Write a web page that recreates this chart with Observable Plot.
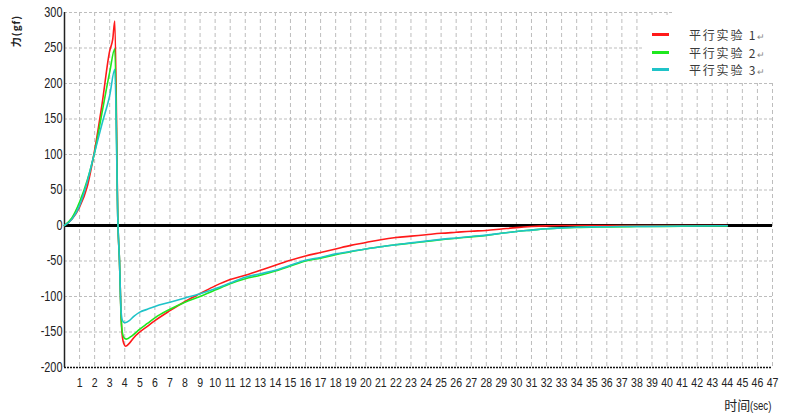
<!DOCTYPE html>
<html>
<head>
<meta charset="utf-8">
<script src="https://cdn.jsdelivr.net/npm/d3@7"></script>
<script src="https://cdn.jsdelivr.net/npm/@observablehq/plot@0.6"></script>
<style>
  body { margin: 0; background: #fff; }
  #wrap { position: relative; width: 796px; height: 418px; overflow: hidden; }
  .legend { position: absolute; left: 643px; top: 15px; width: 153px; height: 68px; background: #fff; }
  .legend .item { position: absolute; left: 0; height: 17px; width: 153px; }
  .legend .sw { position: absolute; left: 9px; top: 7px; width: 17px; height: 3px; }
  .legend .tx { position: absolute; left: 46px; top: 0px; font-family: "Noto Sans CJK SC", sans-serif; font-size: 12px; letter-spacing: 1.8px; color: #3a3a3a; white-space: nowrap; line-height: 17px; height: 17px; }
  .legend .tx .rt { font-size: 9px; color: #888; letter-spacing: 0; }
  .topcover { position: absolute; left: 672px; top: 0; width: 124px; height: 15px; background: #fff; }
  .ylab { position: absolute; left: -4px; top: 25px; width: 40px; text-align: center; transform: rotate(-90deg); transform-origin: 50% 50%; font-family: "Noto Sans CJK SC", sans-serif; font-size: 10px; letter-spacing: 1px; font-weight: bold; color: #222; white-space: nowrap; line-height: 12px; }
  .xlab { position: absolute; right: 24px; top: 396px; font-family: "Noto Sans CJK SC", sans-serif; font-size: 13px; color: #222; white-space: nowrap; line-height: 18px; }
  .xlab .s { display: inline-block; font-family: "Liberation Sans", sans-serif; font-size: 12px; transform: scaleX(0.8); transform-origin: 0 50%; margin-right: -5px; }
</style>
</head>
<body>
<div id="wrap"></div>
<script>
// ---- data ----
const seriesNames = ["平行实验 1", "平行实验 2", "平行实验 3"];
const seriesColors = ["#ff1a1a", "#1ee81e", "#1fc3c8"];

const t1 = [0,0.5,1,1.5,2,2.5,3,3.2,3.34,3.55,3.65,3.76,3.85,3.95,4.05,4.3,4.6,5,5.5,6,7,8,9,10,11,12,13,14,15,16,17,18,19,20,21,22,23,24,25,26,27,28,29,30,31,32,33,36,40,44];
const f1 = [0,9,26,54,106,172,246,262,288,0,-50,-130,-158,-167,-170,-166,-158,-150,-142,-134,-120,-107,-96,-85,-76,-70,-63,-56,-49,-43,-38,-33,-28,-24,-20,-17,-15,-13,-11,-9.5,-8,-7,-5,-3,-1.5,-0.5,0,0,0,0];

const t2 = [0,0.5,1,1.5,2,2.5,3,3.34,3.55,3.65,3.76,3.85,3.95,4.1,4.5,5,5.5,6,7,8,9,10,11,12,13,14,15,16,17,18,19,20,21,22,23,24,25,26,27,28,29,30,31,32,33,34,35,36,38,40,42,44];
const f2 = [0,11,33,63,103,160,216,249,0,-50,-130,-152,-158,-160,-155,-146,-138,-130,-118,-108,-100,-91,-82,-75,-70,-64,-57,-50,-46,-41,-37,-33,-30,-27,-25,-22.5,-20,-18,-16,-14,-11,-8.5,-6.5,-4.5,-3.3,-2.7,-2.3,-2,-1.5,-1.2,-0.8,-0.5];

const t3 = [0,0.5,1,1.5,2,2.5,3,3.34,3.55,3.65,3.76,3.85,4.0,4.3,4.6,5,5.5,6,7,8,9,10,11,12,13,14,15,16,17,18,19,20,21,22,23,24,25,26,27,28,29,30,31,32,33,34,35,37,40,42,44];
const f3 = [0,9,28,61,103,144,183,220,0,-50,-122,-134,-137,-134,-128,-122,-118,-114,-108,-102,-96,-89,-81,-73,-68,-63,-56,-49,-45,-40,-36.5,-33,-30,-27,-24.5,-22,-19.5,-17.5,-15.5,-13.5,-11,-8.5,-6.5,-4.5,-3.3,-2.5,-2,-1.5,-1,-0.6,-0.3];

const xTicks = d3.range(1, 48);
const yTicks = [-200,-150,-100,-50,0,50,100,150,200,250,300];
const yLabel = "力(gf)";
const xLabelMain = "时间";
const xLabelUnit = "(sec)";

// build tables
const times = [t1, t2, t3];
const forces = [f1, f2, f3];
const rows = [];
seriesNames.forEach((name, i) => {
  times[i].forEach((t, j) => rows.push({series: name, t, f: forces[i][j]}));
});

const tickFont = '"Liberation Sans", sans-serif';

const chart = Plot.plot({
  width: 796,
  height: 418,
  marginLeft: 64,
  marginRight: 24,
  marginTop: 12,
  marginBottom: 51,
  style: {background: "#fff", fontFamily: tickFont, color: "#222"},
  x: {domain: [0, 47]},
  y: {domain: [-200, 300]},
  color: {domain: seriesNames, range: seriesColors},
  marks: [
    Plot.ruleX(xTicks, {stroke: "#bdbdbd", strokeDasharray: "4,3", strokeWidth: 1}),
    Plot.ruleY(yTicks.filter(d => d > -200 && d !== 0), {stroke: "#bdbdbd", strokeDasharray: "3,2", strokeWidth: 1}),
    Plot.ruleY([-200], {stroke: "#111", strokeDasharray: "2,1", strokeWidth: 1.5}),
    Plot.ruleX([0], {stroke: "#222", strokeWidth: 1.5}),
    Plot.ruleY([0], {stroke: "#000", strokeWidth: 3}),
    Plot.line(rows, {x: "t", y: "f", z: "series", stroke: "series", strokeWidth: 1.6, curve: "monotone-x"}),
    Plot.axisY({ticks: yTicks, tickSize: 0, tickPadding: 2, fontSize: 14, label: null, tickFormat: d => String(d)}),
    Plot.axisX({ticks: xTicks, tickSize: 0, tickPadding: 10, fontSize: 13.5, label: null, tickFormat: d => String(d)})
  ]
});

// condense tick label glyphs (narrow typeface look)
d3.select(chart).selectAll("g[aria-label='y-axis tick label'] text, g[aria-label='x-axis tick label'] text").each(function() {
  const tr = this.getAttribute("transform") || "";
  this.setAttribute("transform", tr + " scale(0.78,1)");
});

const wrap = document.getElementById("wrap");
wrap.appendChild(chart);

const cover = document.createElement("div");
cover.className = "topcover";
wrap.appendChild(cover);

const legend = document.createElement("div");
legend.className = "legend";
seriesNames.forEach((name, i) => {
  const item = document.createElement("div");
  item.className = "item";
  item.style.top = (11 + i * 17.5) + "px";
  const sw = document.createElement("div");
  sw.className = "sw";
  sw.style.background = seriesColors[i];
  const tx = document.createElement("div");
  tx.className = "tx";
  tx.innerHTML = name + '<span class="rt">↵</span>';
  item.appendChild(sw);
  item.appendChild(tx);
  legend.appendChild(item);
});
wrap.appendChild(legend);

const yl = document.createElement("div");
yl.className = "ylab";
yl.textContent = yLabel;
wrap.appendChild(yl);

const xl = document.createElement("div");
xl.className = "xlab";
xl.innerHTML = xLabelMain + '<span class="s">' + xLabelUnit + '</span>';
wrap.appendChild(xl);
</script>
</body>
</html>
